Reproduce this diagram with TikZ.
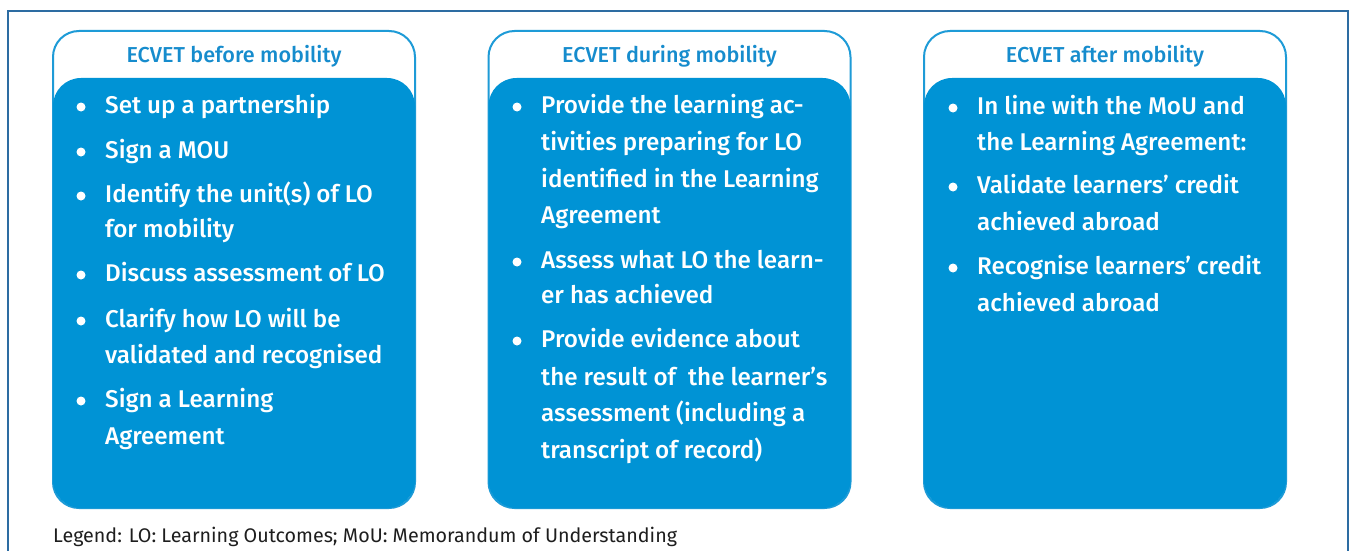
\documentclass[tikz,border=0pt]{standalone}
\usepackage{fontspec}
\setmainfont{Fira Sans}
\newfontfamily\medfont{Fira Sans Medium}
\definecolor{bodyblue}{RGB}{0,147,213}
\definecolor{outl}{RGB}{30,155,215}
\definecolor{headblue}{RGB}{22,140,205}
\definecolor{framec}{RGB}{45,108,162}
\definecolor{legendgray}{RGB}{30,30,30}
\tikzset{
  boxline/.style={draw=outl, line width=2pt, rounded corners=26pt, rectangle, inner sep=0pt, minimum width=362pt, minimum height=477pt},
  boxbody/.style={fill=bodyblue, rounded corners=28pt, rectangle, inner sep=0pt, minimum width=362pt, minimum height=430pt},
  headtxt/.style={text=headblue, font=\medfont\fontsize{21.6}{25}\selectfont, inner sep=0pt, anchor=base},
  itemtxt/.style={text=white, font=\medfont\fontsize{24.2}{28}\selectfont, anchor=base west, inner sep=0pt},
  dot/.style={circle, fill=white, inner sep=0pt, minimum size=9pt},
  legendtxt/.style={text=legendgray, font=\fontsize{19.7}{23}\selectfont, anchor=base west, inner sep=0pt},
}
\begin{document}
\begin{tikzpicture}[x=1pt,y=-1pt]
\useasboundingbox (0,0) rectangle (1352,551);
\clip (0,0) rectangle (1352,551);
\fill[white] (0,0) rectangle (1352,551);
\draw[framec, line width=2pt] (8,11) rectangle (1348,600);

% column 1
\node[boxline] (b1) at (234,269.5) {};
\node[boxbody] (b1body) at (234,293) {};
\node[headtxt] (h1) at (234,63) {ECVET before mobility};
\node[dot] (d11) at (81,107) {};
\node[itemtxt] (t11) at (105,113) {Set up a partnership};
\node[dot] (d12) at (81,152) {};
\node[itemtxt] (t12) at (105,158) {Sign a MOU};
\node[dot] (d13) at (81,196) {};
\node[itemtxt] (t13) at (105,202) {Identify the unit(s) of LO};
\node[itemtxt] (t13b) at (105,237) {for mobility};
\node[dot] (d14) at (81,275) {};
\node[itemtxt] (t14) at (105,281) {Discuss assessment of LO};
\node[dot] (d15) at (81,321) {};
\node[itemtxt] (t15) at (105,327) {Clarify how LO will be};
\node[itemtxt] (t15b) at (105,363) {validated and recognised};
\node[dot] (d16) at (81,401) {};
\node[itemtxt] (t16) at (105,407) {Sign a Learning};
\node[itemtxt] (t16b) at (105,444) {Agreement};

% column 2
\node[boxline] (b2) at (669.5,269.5) {};
\node[boxbody] (b2body) at (669.5,293) {};
\node[headtxt] (h2) at (669.5,63) {ECVET during mobility};
\node[dot] (d21) at (517,107) {};
\node[itemtxt] (t21) at (541,113) {Provide the learning ac-};
\node[itemtxt] (t21b) at (541,150) {tivities preparing for LO};
\node[itemtxt] (t21c) at (541,187) {identified in the Learning};
\node[itemtxt] (t21d) at (541,223) {Agreement};
\node[dot] (d22) at (517,262) {};
\node[itemtxt] (t22) at (541,268) {Assess what LO the learn-};
\node[itemtxt] (t22b) at (541,303) {er has achieved};
\node[dot] (d23) at (517,341) {};
\node[itemtxt] (t23) at (541,347) {Provide evidence about};
\node[itemtxt] (t23b) at (541,385) {the result of \ the learner’s};
\node[itemtxt] (t23c) at (541,421) {assessment (including a};
\node[itemtxt] (t23d) at (541,458) {transcript of record)};

% column 3
\node[boxline] (b3) at (1105,269.5) {};
\node[boxbody] (b3body) at (1105,293) {};
\node[headtxt] (h3) at (1105,63) {ECVET after mobility};
\node[dot] (d31) at (953,108) {};
\node[itemtxt] (t31) at (977,114) {In line with the MoU and};
\node[itemtxt] (t31b) at (977,150) {the Learning Agreement:};
\node[dot] (d32) at (953,187) {};
\node[itemtxt] (t32) at (977,193) {Validate learners’ credit};
\node[itemtxt] (t32b) at (977,230) {achieved abroad};
\node[dot] (d33) at (953,268) {};
\node[itemtxt] (t33) at (977,274) {Recognise learners’ credit};
\node[itemtxt] (t33b) at (977,311) {achieved abroad};

\node[legendtxt] (legend) at (53,542) {Legend: LO: Learning Outcomes; MoU: Memorandum of Understanding};
\end{tikzpicture}
\end{document}
